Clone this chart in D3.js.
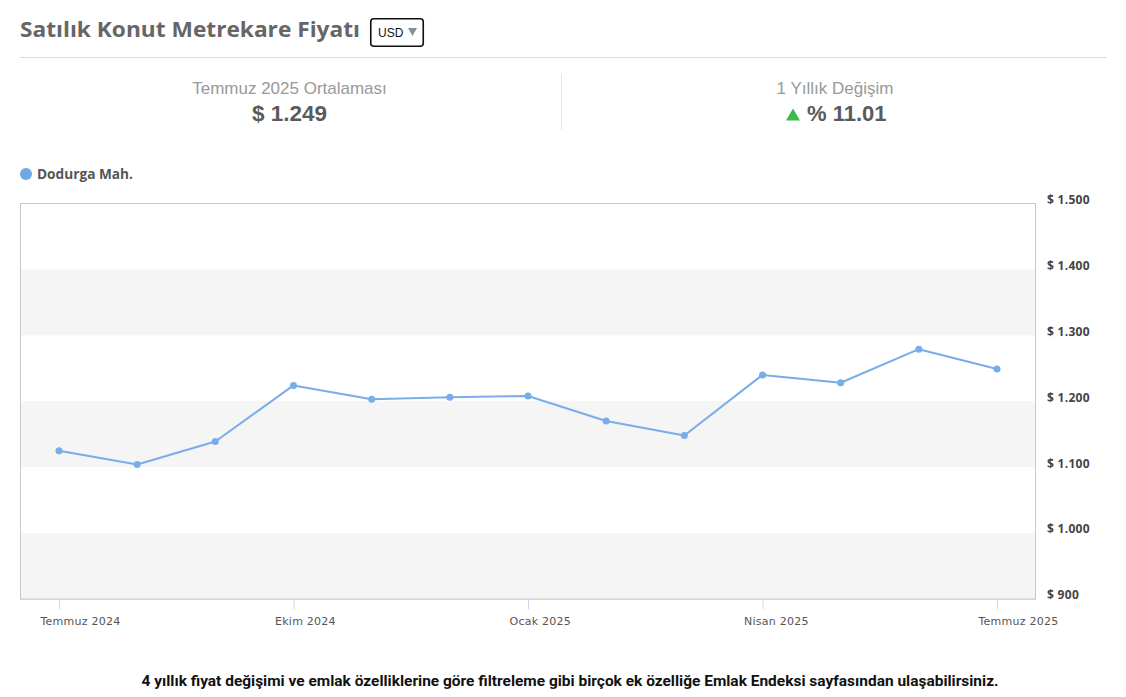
<!DOCTYPE html>
<html>
<head>
<meta charset="utf-8">
<script src="https://cdn.jsdelivr.net/npm/d3@7"></script>
<style>
  html, body { margin: 0; padding: 0; background: #fff; }
  svg { display: block; }
</style>
</head>
<body>
<svg id="chart" width="1126" height="697"></svg>
<script>
// Monthly average sale price per square metre (USD), Dodurga Mah.
const months = ["2024-07","2024-08","2024-09","2024-10","2024-11","2024-12",
                "2025-01","2025-02","2025-03","2025-04","2025-05","2025-06","2025-07"];
const prices = [1125, 1104, 1139, 1224, 1203, 1206, 1208, 1170, 1148, 1240, 1228, 1279, 1249];
const xTickMonths = ["2024-07","2024-10","2025-01","2025-04","2025-07"];
const xTickLabels = ["Temmuz 2024","Ekim 2024","Ocak 2025","Nisan 2025","Temmuz 2025"];
const yTicks = [900, 1000, 1100, 1200, 1300, 1400, 1500];
const seriesName = "Dodurga Mah.";
const currency = "USD";
const latestLabel = "Temmuz 2025 Ortalaması";
const changeLabel = "1 Yıllık Değişim";
const yearlyChange = 11.01;
const footerText = "4 yıllık fiyat değişimi ve emlak özelliklerine göre filtreleme gibi birçok ek özelliğe Emlak Endeksi sayfasından ulaşabilirsiniz.";

const svg = d3.select("#chart");
const fmt = d3.formatLocale({ decimal: ",", thousands: ".", grouping: [3], currency: ["$ ", ""] });
const money = v => "$ " + fmt.format(",")(v);

// Header
svg.append("text").attr("x", 20).attr("y", 37)
  .attr("font-family", "'Open Sans', Roboto, sans-serif").attr("font-weight", 700)
  .attr("font-size", 22).attr("fill", "#666")
  .attr("textLength", 340).attr("lengthAdjust", "spacingAndGlyphs")
  .text("Satılık Konut Metrekare Fiyatı");

const sel = svg.append("g").attr("transform", "translate(370,18)");
sel.append("rect").attr("x", 0.75).attr("y", 0.75).attr("width", 52.5).attr("height", 27.5)
  .attr("rx", 3).attr("fill", "#fff").attr("stroke", "#111").attr("stroke-width", 1.6);
sel.append("text").attr("x", 8).attr("y", 18.5).attr("font-family", "Arial, 'Liberation Sans', sans-serif")
  .attr("font-size", 12).attr("fill", "#111").text(currency);
sel.append("path").attr("d", "M38,10 L47,10 L42.5,18 Z").attr("fill", "#8a8f96");

svg.append("line").attr("x1", 20).attr("x2", 1107).attr("y1", 57.5).attr("y2", 57.5)
  .attr("stroke", "#dcdcdc").attr("stroke-width", 1);

// Summary figures
const statFont = "Arial, 'Liberation Sans', sans-serif";
svg.append("text").attr("x", 289.5).attr("y", 94).attr("text-anchor", "middle")
  .attr("font-family", statFont).attr("font-size", 17).attr("fill", "#999")
  .text(latestLabel);
svg.append("text").attr("x", 289.5).attr("y", 121).attr("text-anchor", "middle")
  .attr("font-family", statFont).attr("font-weight", 700).attr("font-size", 22.5).attr("fill", "#5a5a5a")
  .text(money(prices[prices.length - 1]));

svg.append("line").attr("x1", 561.5).attr("x2", 561.5).attr("y1", 74).attr("y2", 130)
  .attr("stroke", "#e6e6e6");

svg.append("text").attr("x", 835).attr("y", 94).attr("text-anchor", "middle")
  .attr("font-family", statFont).attr("font-size", 17).attr("fill", "#999")
  .text(changeLabel);
const chg = svg.append("g");
chg.append("path").attr("d", "M786,120.5 L800,120.5 L793,108.5 Z").attr("fill", "#3cbb47");
chg.append("text").attr("x", 807).attr("y", 121)
  .attr("font-family", statFont).attr("font-weight", 700).attr("font-size", 22).attr("fill", "#5a5a5a")
  .text("% " + yearlyChange.toFixed(2));

// Legend
svg.append("circle").attr("cx", 26).attr("cy", 174).attr("r", 6).attr("fill", "#6fa8e8");
svg.append("text").attr("x", 37).attr("y", 179)
  .attr("font-family", "'Open Sans', Roboto, sans-serif").attr("font-weight", 700)
  .attr("font-size", 14).attr("fill", "#555")
  .attr("textLength", 96).attr("lengthAdjust", "spacingAndGlyphs").text(seriesName);

// Plot area
const plot = { left: 20, right: 1035, top: 203.5, bottom: 599 };
const data = months.map((m, i) => ({ month: m, value: prices[i] }));

const x = d3.scalePoint().domain(months).range([59, 997]);
const y = d3.scaleLinear().domain([900, 1500]).range([plot.bottom, plot.top]);

// Alternating bands
const bands = yTicks.slice(0, -1).filter((d, i) => i % 2 === 0);
svg.append("g").selectAll("rect").data(bands).join("rect")
  .attr("x", plot.left).attr("width", plot.right - plot.left)
  .attr("y", d => y(d + 100)).attr("height", d => y(d) - y(d + 100))
  .attr("fill", "#f5f5f5");

// Frame
svg.append("rect").attr("x", plot.left + 0.5).attr("y", plot.top)
  .attr("width", plot.right - plot.left).attr("height", plot.bottom - plot.top)
  .attr("fill", "none").attr("stroke", "#c8c8c8").attr("stroke-width", 1);

// Y axis (right)
const yAxis = d3.axisRight(y).tickValues(yTicks).tickSize(0).tickPadding(0).tickFormat(money);
const gy = svg.append("g").attr("transform", "translate(1047,-4)").call(yAxis);
gy.select(".domain").remove();
gy.selectAll("text").attr("font-family", "'Open Sans', 'DejaVu Sans', sans-serif")
  .attr("font-weight", 700).attr("font-size", 12).attr("fill", "#444").attr("letter-spacing", 0.3)
  .attr("dy", "0.32em");

// X axis
const xAxis = d3.axisBottom(x).tickValues(xTickMonths).tickSize(10).tickPadding(7)
  .tickFormat(m => xTickLabels[xTickMonths.indexOf(m)]);
const gx = svg.append("g").attr("transform", `translate(0,${plot.bottom})`).call(xAxis);
gx.select(".domain").attr("d", `M${plot.left + 0.5},0.5H${plot.right + 0.5}`).attr("stroke", "#ccd6eb");
gx.selectAll(".tick line").attr("stroke", "#ccd6eb");
gx.selectAll("text").attr("font-family", "'DejaVu Sans', Verdana, sans-serif")
  .attr("text-anchor", "start").attr("x", -19).attr("y", 18)
  .attr("font-size", 11).attr("fill", "#555").attr("letter-spacing", 0.25);

// Series line and markers
const line = d3.line().x(d => x(d.month)).y(d => y(d.value));
svg.append("path").datum(data).attr("d", line)
  .attr("fill", "none").attr("stroke", "#78ade8").attr("stroke-width", 2).attr("stroke-linejoin", "round");
svg.append("g").selectAll("circle").data(data).join("circle")
  .attr("cx", d => x(d.month)).attr("cy", d => y(d.value)).attr("r", 3.5)
  .attr("fill", "#78ade8");

// Footer note
svg.append("text").attr("x", 570).attr("y", 686).attr("text-anchor", "middle")
  .attr("font-family", "Roboto, 'Liberation Sans Narrow', sans-serif").attr("font-weight", 700)
  .attr("font-size", 14).attr("fill", "#111").attr("textLength", 857).attr("lengthAdjust", "spacingAndGlyphs")
  .text(footerText);
</script>
</body>
</html>
